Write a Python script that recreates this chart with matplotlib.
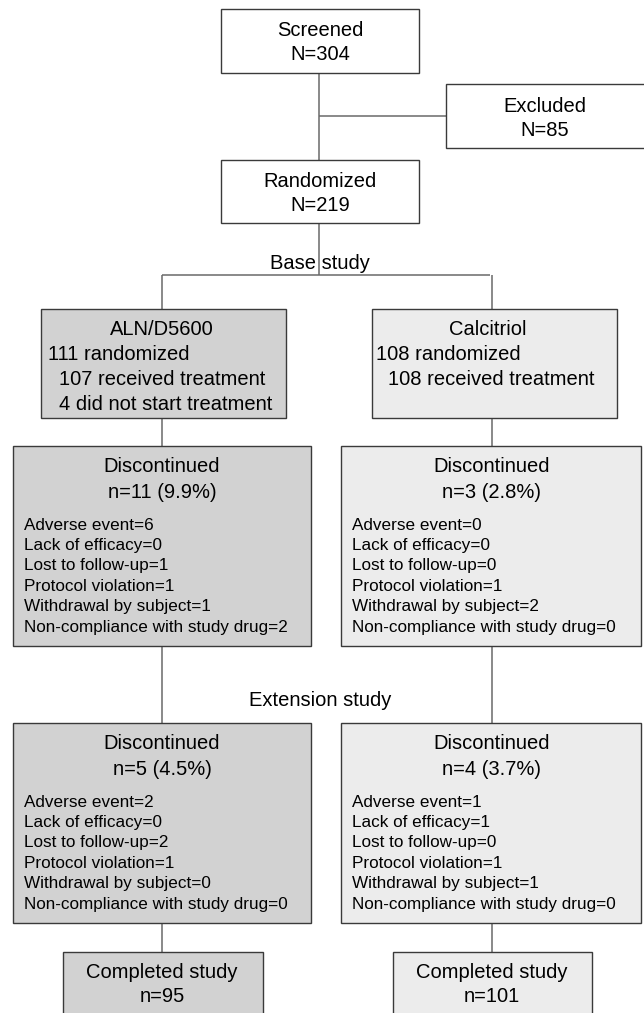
import matplotlib
matplotlib.use("Agg")
import matplotlib.pyplot as plt
from matplotlib.patches import Rectangle

plt.rcParams['font.family'] = ['Liberation Sans', 'DejaVu Sans']

# ---- data ----
screened = 304
excluded = 85
randomized = 219
arms = ["ALN/D5600", "Calcitriol"]
arm_randomized = [111, 108]
arm_received = [107, 108]
arm_not_started = [4, 0]
reasons = ["Adverse event", "Lack of efficacy", "Lost to follow-up",
           "Protocol violation", "Withdrawal by subject",
           "Non-compliance with study drug"]
base_disc_n = [11, 3]
base_disc_pct = [9.9, 2.8]
base_reasons = [[6, 0, 1, 1, 1, 2],
                [0, 0, 0, 1, 2, 0]]
ext_disc_n = [5, 4]
ext_disc_pct = [4.5, 3.7]
ext_reasons = [[2, 0, 2, 1, 0, 0],
               [1, 1, 0, 1, 1, 0]]
completed = [95, 101]

arm_fill = ["#d2d2d2", "#ececec"]
edge = "#3a3a3a"
conn = "#6a6a6a"
BIG = 14.5
SMALL = 12.3

fig = plt.figure(figsize=(6.44, 10.13), dpi=100)
ax = fig.add_axes([0, 0, 1, 1])
ax.set_xlim(0, 644)
ax.set_ylim(1013, 0)
ax.axis('off')


def box(x0, y0, x1, y1, fill="white"):
    ax.add_patch(Rectangle((x0, y0), x1 - x0, y1 - y0, facecolor=fill,
                           edgecolor=edge, lw=1.0, zorder=2))


def line(xs, ys):
    ax.plot(xs, ys, color=conn, lw=1.1, zorder=1, solid_capstyle='butt')


def ctext(x, y, s, size=BIG):
    ax.text(x, y, s, ha='center', va='center', fontsize=size, zorder=3)


def ltext(x, y, s, size=BIG):
    ax.text(x, y, s, ha='left', va='center', fontsize=size, zorder=3)


# ---- top part ----
line([319, 319], [73, 160])
line([319, 446], [116, 116])
box(221, 9, 419, 73)
ctext(320, 30, "Screened")
ctext(320, 54, "N=%d" % screened)
box(446, 84, 660, 148)
ctext(545, 106, "Excluded")
ctext(545, 130, "N=%d" % excluded)
box(221, 160, 419, 223)
ctext(320, 181, "Randomized")
ctext(320, 205, "N=%d" % randomized)

line([319, 319], [223, 275])
line([162, 490], [275, 275])
ctext(320, 263, "Base study")

# ---- arms ----
cx = [162, 492]
arm_box = [(41, 286), (372, 617)]
disc_box = [(13, 311), (341, 641)]
comp_box = [(63, 263), (393, 592)]
item_x = [24, 352]

for i in range(2):
    c = cx[i]
    line([c, c], [275, 309])
    line([c, c], [418, 446])
    line([c, c], [646, 723])
    line([c, c], [923, 952])

    x0, x1 = arm_box[i]
    box(x0, 309, x1, 418, arm_fill[i])
    ctext(c if i == 0 else 488, 329, arms[i])
    ltext(x0 + 7 if i == 0 else x0 + 4, 354, "%d randomized" % arm_randomized[i])
    ltext(x0 + 18 if i == 0 else x0 + 16, 379, "%d received treatment" % arm_received[i])
    if arm_not_started[i]:
        ltext(x0 + 18, 404, "%d did not start treatment" % arm_not_started[i])

    # base study discontinued
    x0, x1 = disc_box[i]
    box(x0, 446, x1, 646, arm_fill[i])
    ctext(c, 466, "Discontinued")
    ctext(c, 492, "n=%d (%.1f%%)" % (base_disc_n[i], base_disc_pct[i]))
    for k, (r, v) in enumerate(zip(reasons, base_reasons[i])):
        ltext(item_x[i], 525 + k * 20.4, "%s=%d" % (r, v), SMALL)

    # extension discontinued
    box(x0, 723, x1, 923, arm_fill[i])
    ctext(c, 743, "Discontinued")
    ctext(c, 769, "n=%d (%.1f%%)" % (ext_disc_n[i], ext_disc_pct[i]))
    for k, (r, v) in enumerate(zip(reasons, ext_reasons[i])):
        ltext(item_x[i], 802 + k * 20.4, "%s=%d" % (r, v), SMALL)

    # completed
    x0, x1 = comp_box[i]
    box(x0, 952, x1, 1030, arm_fill[i])
    ctext(c, 972, "Completed study")
    ctext(c, 996, "n=%d" % completed[i])

ctext(320, 700, "Extension study")

fig.savefig("out.png", dpi=100)
